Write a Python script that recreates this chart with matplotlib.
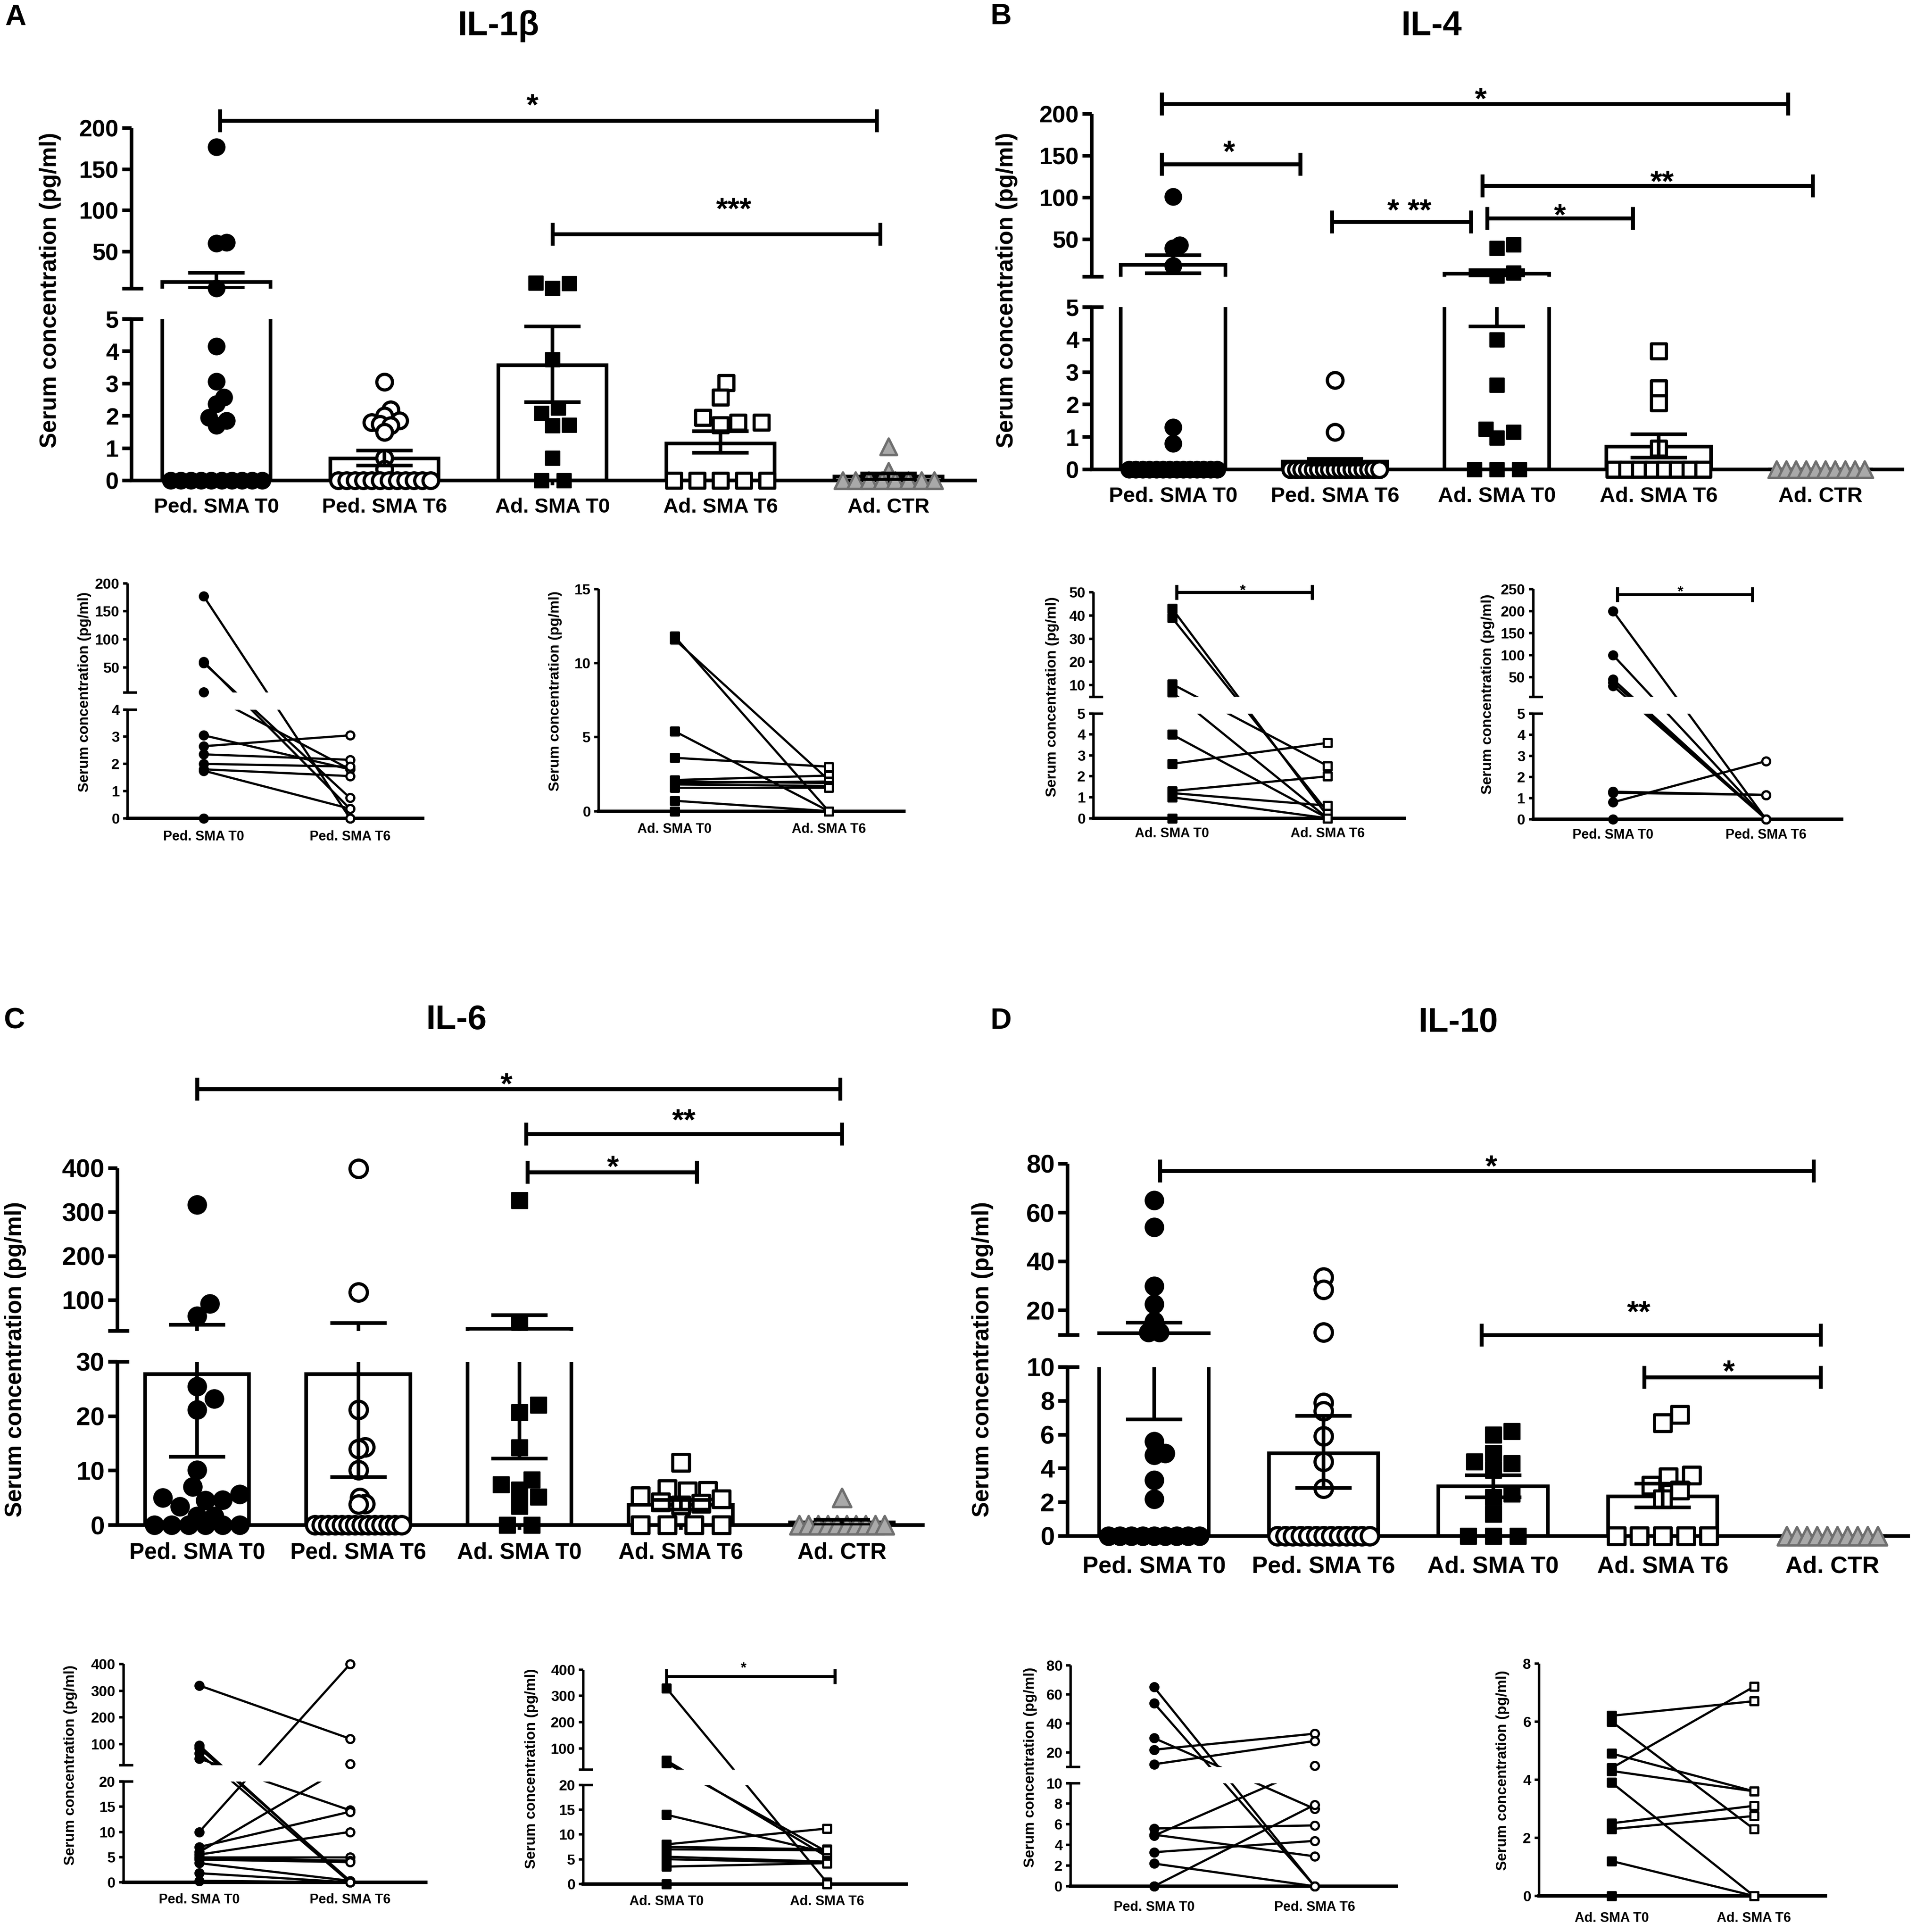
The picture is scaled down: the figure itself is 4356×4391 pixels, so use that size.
import numpy as np
import matplotlib
matplotlib.use("Agg")
import matplotlib.pyplot as plt
from matplotlib import transforms as mtrans

W, H, DPI = 4356, 4391, 200

plt.rcParams["font.family"] = ["Liberation Sans", "DejaVu Sans"]
plt.rcParams["font.weight"] = "bold"

# ------------------------------------------------------------------ data
CATEGORIES = ["Ped. SMA T0", "Ped. SMA T6", "Ad. SMA T0", "Ad. SMA T6", "Ad. CTR"]
PED_PAIR = ["Ped. SMA T0", "Ped. SMA T6"]
AD_PAIR = ["Ad. SMA T0", "Ad. SMA T6"]

# IL-1beta
il1b_ped_t0 = [177, 61, 60, 5.5, 4.15, 3.07, 2.58, 2.37, 1.95, 1.85, 1.7, 0, 0, 0, 0, 0, 0, 0, 0, 0, 0]
il1b_ped_t6 = [3.05, 2.2, 2.0, 1.85, 1.8, 1.75, 1.7, 1.5, 0.7, 0.35, 0, 0, 0, 0, 0, 0, 0, 0, 0, 0, 0, 0]
il1b_ad_t0 = [11.8, 11.6, 5.4, 3.75, 2.25, 2.08, 1.72, 1.7, 0.7, 0, 0]
il1b_ad_t6 = [3.02, 2.58, 1.95, 1.8, 1.8, 1.72, 0, 0, 0, 0, 0]
il1b_ad_ctr = [1.05, 0.28, 0, 0, 0, 0, 0, 0, 0, 0]
il1b_mean = [13, 0.68, 3.57, 1.15, 0.12]
il1b_err_lo = [6, 0.47, 2.42, 0.86, 0.03]
il1b_err_hi = [24, 0.93, 4.77, 1.53, 0.22]
il1b_ped_pair_t0 = [177, 60, 58, 5.5, 3.05, 2.65, 2.35, 2.0, 1.8, 1.75, 0]
il1b_ped_pair_t6 = [0, 0.35, 0.75, 1.8, 1.8, 3.05, 2.15, 1.9, 1.55, 0.35, 0]
il1b_ad_pair_t0 = [11.8, 11.6, 5.4, 3.6, 2.1, 2.0, 1.9, 1.8, 1.6, 0.7, 0]
il1b_ad_pair_t6 = [0, 2.1, 0, 3.0, 2.4, 1.9, 2.0, 1.7, 1.6, 0, 0]

# IL-4
il4_ped_t0 = [101, 43, 39, 18, 1.3, 0.8, 0, 0, 0, 0, 0, 0, 0, 0, 0, 0, 0, 0, 0, 0]
il4_ped_t6 = [2.75, 1.15, 0, 0, 0, 0, 0, 0, 0, 0, 0, 0, 0, 0, 0, 0, 0, 0, 0]
il4_ad_t0 = [43.5, 39, 9.7, 6, 4.0, 2.6, 1.25, 1.15, 0.97, 0, 0, 0]
il4_ad_t6 = [3.65, 2.5, 2.05, 0.65, 0, 0, 0, 0, 0, 0, 0, 0]
il4_ad_ctr = [0, 0, 0, 0, 0, 0, 0, 0, 0, 0]
il4_mean = [19, 0.25, 8.5, 0.7, 0]
il4_err_lo = [9, 0.15, 4.4, 0.36, 0]
il4_err_hi = [31, 0.32, 12.8, 1.08, 0]
il4_ad_pair_t0 = [43, 39, 10.5, 7, 4.0, 2.6, 1.3, 1.2, 1.0, 0]
il4_ad_pair_t6 = [0.1, 0.3, 2.5, 0.0, 0.0, 3.6, 2.0, 0.6, 0.0, 0]
il4_ped_pair_t0 = [200, 100, 45, 38, 30, 1.3, 1.25, 0.8, 0]
il4_ped_pair_t6 = [0, 0, 0, 0, 0, 1.15, 1.15, 2.75, 0]

# IL-6
il6_ped_t0 = [317, 92, 64, 25.5, 23.2, 21.2, 10.1, 7.0, 5.7, 5.0, 4.6, 4.5, 3.4, 1.6, 1.6, 0, 0, 0, 0, 0, 0]
il6_ped_t6 = [399, 118, 21.2, 14.3, 14.0, 10.1, 5.0, 3.9, 3.8, 0, 0, 0, 0, 0, 0, 0, 0, 0, 0, 0, 0, 0, 0]
il6_ad_t0 = [327, 50, 22.1, 20.7, 14.2, 8.3, 7.4, 6.5, 5.2, 3.5, 0, 0]
il6_ad_t6 = [11.5, 6.6, 6.3, 6.2, 5.3, 4.8, 4.2, 4.0, 3.6, 0, 0, 0, 0]
il6_ad_ctr = [5.0, 0, 0, 0, 0, 0, 0, 0, 0, 0, 0]
il6_mean = [27.7, 27.7, 35.3, 3.7, 0.5]
il6_err_lo = [12.5, 8.8, 12.2, 2.8, 0.0]
il6_err_hi = [44, 48, 66, 4.6, 1.0]
il6_ped_pair_t0 = [320, 95, 85, 65, 45, 10, 7, 6, 5.5, 5, 4.8, 4.5, 3.8, 1.8, 0.3]
il6_ped_pair_t6 = [120, 0, 0.3, 0, 14.3, 400, 14, 25, 10, 5, 4.3, 4, 0.3, 0, 0]
il6_ad_pair_t0 = [330, 55, 45, 14, 8, 7.5, 7, 5.5, 5, 3.5, 0]
il6_ad_pair_t6 = [0.3, 5.5, 6.5, 6.3, 11.2, 7, 6.8, 4.5, 4.3, 4.2, 0]

# IL-10
il10_ped_t0 = [65, 54, 30, 22.5, 15.5, 11, 11, 5.6, 4.9, 4.8, 3.3, 2.2, 0, 0, 0, 0, 0, 0, 0, 0, 0]
il10_ped_t6 = [33.5, 28.5, 11, 7.9, 7.4, 5.9, 4.4, 2.8, 0, 0, 0, 0, 0, 0, 0, 0, 0, 0, 0, 0, 0]
il10_ad_t0 = [6.2, 6.0, 4.9, 4.4, 4.3, 3.9, 2.5, 2.3, 1.3, 0, 0, 0]
il10_ad_t6 = [7.2, 6.7, 3.6, 3.5, 3.0, 2.7, 2.2, 0, 0, 0, 0, 0]
il10_ad_ctr = [0, 0, 0, 0, 0, 0, 0, 0, 0, 0]
il10_mean = [10.7, 4.9, 2.95, 2.35, 0]
il10_err_lo = [6.9, 2.85, 2.3, 1.7, 0]
il10_err_hi = [15, 7.1, 3.6, 3.1, 0]
il10_ped_pair_t0 = [65, 54, 30, 22, 12, 5.6, 5.0, 4.9, 3.3, 2.2, 0, 0]
il10_ped_pair_t6 = [0, 0, 7.5, 33, 28, 5.9, 2.9, 11, 4.4, 0, 7.9, 0]
il10_ad_pair_t0 = [6.2, 6.0, 4.9, 4.4, 4.3, 3.9, 2.5, 2.3, 1.2, 0]
il10_ad_pair_t6 = [6.7, 2.3, 3.6, 7.2, 3.6, 0, 3.1, 2.75, 0, 0]

# ------------------------------------------------------------------ style / layout
BW = 0.645
GROUP_STYLE = [
    dict(marker="o", fc="black", ec="black", lw=1.0, scale=1.0),
    dict(marker="o", fc="white", ec="black", lw=2.6, scale=0.95),
    dict(marker="s", fc="black", ec="black", lw=1.0, scale=0.85),
    dict(marker="s", fc="white", ec="black", lw=2.6, scale=0.92),
    dict(marker="^", fc="#a9a9a9", ec="#6f6f6f", lw=2.0, scale=1.0),
]

fig = plt.figure(figsize=(W / DPI, H / DPI), dpi=DPI)
fig.patch.set_facecolor("white")


def ftext(x, y, s, **kw):
    fig.text(x / W, 1 - y / H, s, **kw)


def px_axes(left, right, top, bottom):
    ax = fig.add_axes([left / W, 1 - bottom / H, (right - left) / W, (bottom - top) / H])
    ax.patch.set_visible(False)
    for s in ("top", "right"):
        ax.spines[s].set_visible(False)
    return ax


def build_axes(lay):
    xl = ((lay["spine"] - lay["x0"]) / lay["sp"], (lay["right"] - lay["x0"]) / lay["sp"])
    v0, v1, pb, pt = lay["lo"]
    axl = px_axes(lay["spine"], lay["right"], pt, pb)
    axl.set_xlim(*xl)
    axl.set_ylim(v0, v1)
    axu = None
    if lay.get("up") is not None:
        u0, u1, qb, qt = lay["up"]
        axu = px_axes(lay["spine"], lay["right"], qt, qb)
        axu.set_xlim(*xl)
        axu.set_ylim(u0, u1)
        axu.spines["bottom"].set_visible(False)
        axu.tick_params(axis="x", which="both", bottom=False, labelbottom=False)
    return axu, axl


def set_yt(ax, ticks, fs, length, width, lw_spine):
    ax.set_yticks(ticks)
    ax.set_yticklabels([f"{t:g}" for t in ticks])
    ax.tick_params(axis="y", direction="out", length=length, width=width, labelsize=fs, pad=3)
    ax.spines["left"].set_linewidth(lw_spine)
    ax.spines["left"].set_capstyle("butt")


def brk(ax, yv, lpx, rpx, lw):
    tr = mtrans.blended_transform_factory(ax.transAxes, ax.transData)
    w = ax.get_position().width * W
    ax.plot([-lpx / w, rpx / w], [yv, yv], color="black", lw=lw, transform=tr,
            clip_on=False, solid_capstyle="butt")


def pick(axu, axl, v):
    return axu if (axu is not None and v > axl.get_ylim()[1]) else axl


def swarm_offsets(ys_px, vals, diam, bw_px):
    vals = np.asarray(vals, float)
    uniq, counts = np.unique(vals, return_counts=True)
    nmax = counts.max()
    dmin = 1.6 * diam if nmax < 2 else min(1.6 * diam, (bw_px - diam) / (nmax - 1))
    thr = min(dmin, diam)
    lim = max(0.0, (bw_px - diam) / 2) + 1e-6
    placed = []
    offs = np.zeros(len(vals))
    shifts = [0.0]
    for k in range(1, 80):
        shifts += [k * dmin / 4, -k * dmin / 4]
    for u in uniq:
        idx = np.where(vals == u)[0]
        c = len(idx)
        y = ys_px[idx[0]]
        base = (np.arange(c) - (c - 1) / 2) * dmin
        best, best_d = base, -1.0
        for s in shifts:
            cand = base + s
            if np.any(np.abs(cand) > lim):
                continue
            if placed:
                md = min(np.hypot(cx - px, y - py) for cx in cand for (px, py) in placed)
            else:
                md = np.inf
            if md >= thr * 0.999:
                best = cand
                break
            if md > best_d:
                best, best_d = cand, md
        for j, i in enumerate(idx):
            offs[i] = best[j]
            placed.append((best[j], y))
    return offs


def sig(ax, x1, x2, y, lab, lx, ly, tick_px, lw, fs):
    d = ax.transData.transform((0, 1))[1] - ax.transData.transform((0, 0))[1]
    h = tick_px / d
    kw = dict(color="black", lw=lw, clip_on=False, solid_capstyle="butt", zorder=5)
    ax.plot([x1, x2], [y, y], **kw)
    ax.plot([x1, x1], [y - h, y + h], **kw)
    ax.plot([x2, x2], [y - h, y + h], **kw)
    tr = mtrans.offset_copy(ax.transData, fig=fig, y=-0.56 * fs, units="points")
    ax.text(lx, ly, lab, transform=tr, ha="center", va="baseline", fontsize=fs,
            fontweight="bold", clip_on=False)


def main_panel(lay, groups, means, lo, hi, sigs):
    axu, axl = build_axes(lay)
    set_yt(axu, lay["uticks"], lay["tfs"], 7.5, 3, 3)
    set_yt(axl, lay["lticks"], lay["tfs"], 7.5, 3, 3)
    axl.spines["bottom"].set_linewidth(3)
    axl.set_xticks(range(len(CATEGORIES)))
    axl.set_xticklabels(CATEGORIES)
    axl.tick_params(axis="x", direction="out", length=4, width=3, labelsize=lay["cfs"], pad=lay["xpad"])
    brk(axu, axu.get_ylim()[0], 21, 27, 3)
    brk(axl, axl.get_ylim()[1], 21, 27, 3)
    ubot = axu.get_ylim()[0]
    ltop = axl.get_ylim()[1]
    for i in range(len(means)):
        m = means[i]
        # lower segment: always
        axl.bar([i], [m], width=BW, facecolor="white", edgecolor="black", linewidth=3, zorder=1)
        if m > ubot:
            axu.bar([i], [m], width=BW, facecolor="white", edgecolor="black", linewidth=3, zorder=1)
        if hi[i] > lo[i]:
            yerr = [[m - lo[i]], [hi[i] - m]]
            if lo[i] < ltop:
                axl.errorbar([i], [m], yerr=yerr, fmt="none", ecolor="black", elinewidth=3,
                             capsize=23, capthick=3, zorder=4)
            if hi[i] > ubot:
                axu.errorbar([i], [m], yerr=yerr, fmt="none", ecolor="black", elinewidth=3,
                             capsize=23, capthick=3, zorder=4)
    xpx = axl.transData.transform((1, 0))[0] - axl.transData.transform((0, 0))[0]
    bw_px = BW * xpx
    for gi, vals in enumerate(groups):
        st = GROUP_STYLE[gi]
        size = lay["ms"] * st["scale"]
        diam = size * DPI / 72
        vals = np.asarray(vals, float)
        ys = np.array([pick(axu, axl, v).transData.transform((gi, v))[1] for v in vals])
        offs = swarm_offsets(ys, vals, diam, bw_px) / xpx
        for ax in (axu, axl):
            sel = [k for k, v in enumerate(vals) if pick(axu, axl, v) is ax]
            if not sel:
                continue
            ax.scatter(gi + offs[sel], vals[sel], s=size ** 2, marker=st["marker"],
                       facecolors=st["fc"], edgecolors=st["ec"], linewidths=st["lw"],
                       zorder=3, clip_on=False)
    for (x1, x2, y, lab, lx, ly, which) in sigs:
        sig(axu if which == "u" else axl, x1, x2, y, lab, lx, ly, 26, 3.2, 25)


def pair_panel(lay, t0, t6, names, mk, sig_spec=None):
    axu, axl = build_axes(lay)
    axes = [a for a in (axu, axl) if a is not None]
    if axu is not None:
        set_yt(axu, lay["uticks"], 12, 3.5, 2, 2)
    set_yt(axl, lay["lticks"], 12, 3.5, 2, 2)
    axl.spines["bottom"].set_linewidth(2.8)
    axl.set_xticks([0, 1])
    axl.set_xticklabels(names)
    axl.tick_params(axis="x", length=0, labelsize=11, pad=lay["xpad"])
    if axu is not None:
        brk(axu, axu.get_ylim()[0], 10, 22, 2)
        brk(axl, axl.get_ylim()[1], 10, 22, 2)
    inv = fig.transFigure.inverted()
    for a, b in zip(t0, t6):
        p0 = inv.transform(pick(axu, axl, a).transData.transform((0, a)))
        p1 = inv.transform(pick(axu, axl, b).transData.transform((1, b)))
        for ax in axes:
            ax.plot([p0[0], p1[0]], [p0[1], p1[1]], transform=fig.transFigure,
                    color="black", lw=1.8, zorder=2)
    size = 6.5
    for xi, vals, filled in ((0, t0, True), (1, t6, False)):
        for ax in axes:
            sel = [v for v in vals if pick(axu, axl, v) is ax]
            if sel:
                ax.scatter([xi] * len(sel), sel, s=size ** 2, marker=mk,
                           facecolors="black" if filled else "white", edgecolors="black",
                           linewidths=1.8, zorder=3, clip_on=False)
    if sig_spec is not None:
        sig(axu if axu is not None else axl, *sig_spec, 17, 2.5, 12)


MAIN = {
    "A": dict(spine=299, x0=492, sp=382, right=2217, up=(5, 200, 656, 291), lo=(0, 5, 1092, 725),
              uticks=[50, 100, 150, 200], lticks=[0, 1, 2, 3, 4, 5], tfs=19.5, cfs=17, ms=13.5, xpad=10),
    "B": dict(spine=2482, x0=2667, sp=368, right=4325, up=(5, 200, 629, 259), lo=(0, 5, 1067, 698),
              uticks=[50, 100, 150, 200], lticks=[0, 1, 2, 3, 4, 5], tfs=19.5, cfs=17.5, ms=13.5, xpad=10),
    "C": dict(spine=267, x0=448, sp=366.5, right=2098, up=(30, 400, 3025, 2655), lo=(0, 30, 3466, 3095),
              uticks=[100, 200, 300, 400], lticks=[0, 10, 20, 30], tfs=21, cfs=18.5, ms=15, xpad=10),
    "D": dict(spine=2427, x0=2623.5, sp=385.5, right=4338, up=(10, 80, 3033.5, 2645), lo=(0, 10, 3491, 3107),
              uticks=[20, 40, 60, 80], lticks=[0, 2, 4, 6, 8, 10], tfs=21, cfs=19.5, ms=15, xpad=12),
}

SIGS = {
    "A": [(0.02, 3.93, 209, "*", 1.88, 237, "u"), (2.0, 3.95, 71, "***", 3.08, 111, "u")],
    "B": [(-0.07, 3.80, 212, "*", 1.90, 227, "u"), (-0.07, 0.785, 140, "*", 0.345, 164, "u"),
          (0.98, 1.84, 71, "* **", 1.46, 93.6, "u"), (1.91, 3.95, 114, "**", 3.02, 128, "u"),
          (1.94, 2.84, 75, "*", 2.39, 88, "u")],
    "C": [(0.0, 3.99, 580, "*", 1.92, 608, "u"), (2.04, 4.0, 478, "**", 3.02, 526.5, "u"),
          (2.05, 3.10, 391, "*", 2.58, 420, "u")],
    "D": [(0.035, 3.89, 77.2, "*", 1.99, 82, "u"), (1.93, 3.93, 10, "**", 2.86, 22.5, "u"),
          (2.89, 3.93, 9.4, "*", 3.39, 10.2, "l")],
}

PAIR = {
    "A1": dict(spine=290, x0=463, sp=332.5, right=961, up=(5, 200, 1574, 1325.7), lo=(0, 4, 1859.6, 1612.6),
               uticks=[50, 100, 150, 200], lticks=[0, 1, 2, 3, 4], xpad=10),
    "A2": dict(spine=1361, x0=1533.5, sp=350.5, right=2055, up=None, lo=(0, 15, 1843.5, 1338.6),
               lticks=[0, 5, 10, 15], xpad=9.5),
    "B1": dict(spine=2486, x0=2664.7, sp=353.4, right=3193, up=(5, 50, 1583.7, 1346), lo=(0, 5, 1859.6, 1621.8),
               uticks=[10, 20, 30, 40, 50], lticks=[0, 1, 2, 3, 4, 5], xpad=7.5),
    "B2": dict(spine=3485.6, x0=3667, sp=348, right=4187, up=(5, 250, 1583.7, 1338.6), lo=(0, 5, 1861.8, 1621.8),
               uticks=[50, 100, 150, 200, 250], lticks=[0, 1, 2, 3, 4, 5], xpad=7.5),
    "C1": dict(spine=280.6, x0=453, sp=342.5, right=968, up=(20, 400, 4012, 3782.4), lo=(0, 20, 4278, 4049),
               uticks=[100, 200, 300, 400], lticks=[0, 5, 10, 15, 20], xpad=9),
    "C2": dict(spine=1326, x0=1515, sp=365, right=2060, up=(20, 400, 4021.7, 3794.7), lo=(0, 20, 4281.7, 4057),
               uticks=[100, 200, 300, 400], lticks=[0, 5, 10, 15, 20], xpad=9),
    "D1": dict(spine=2433.8, x0=2623.5, sp=365.5, right=3173.5, up=(10, 80, 4016.4, 3784.6), lo=(0, 10, 4287, 4052.6),
               uticks=[20, 40, 60, 80], lticks=[0, 2, 4, 6, 8, 10], xpad=12),
    "D2": dict(spine=3499, x0=3664, sp=323.5, right=4150, up=None, lo=(0, 8, 4309, 3780.6),
               lticks=[0, 2, 4, 6, 8], xpad=13),
}

# ------------------------------------------------------------------ draw
main_panel(MAIN["A"], [il1b_ped_t0, il1b_ped_t6, il1b_ad_t0, il1b_ad_t6, il1b_ad_ctr],
           il1b_mean, il1b_err_lo, il1b_err_hi, SIGS["A"])
main_panel(MAIN["B"], [il4_ped_t0, il4_ped_t6, il4_ad_t0, il4_ad_t6, il4_ad_ctr],
           il4_mean, il4_err_lo, il4_err_hi, SIGS["B"])
main_panel(MAIN["C"], [il6_ped_t0, il6_ped_t6, il6_ad_t0, il6_ad_t6, il6_ad_ctr],
           il6_mean, il6_err_lo, il6_err_hi, SIGS["C"])
main_panel(MAIN["D"], [il10_ped_t0, il10_ped_t6, il10_ad_t0, il10_ad_t6, il10_ad_ctr],
           il10_mean, il10_err_lo, il10_err_hi, SIGS["D"])

pair_panel(PAIR["A1"], il1b_ped_pair_t0, il1b_ped_pair_t6, PED_PAIR, "o")
pair_panel(PAIR["A2"], il1b_ad_pair_t0, il1b_ad_pair_t6, AD_PAIR, "s")
pair_panel(PAIR["B1"], il4_ad_pair_t0, il4_ad_pair_t6, AD_PAIR, "s", (0.03, 0.90, 50, "*", 0.455, 52.5))
pair_panel(PAIR["B2"], il4_ped_pair_t0, il4_ped_pair_t6, PED_PAIR, "o", (0.03, 0.91, 238, "*", 0.44, 253))
pair_panel(PAIR["C1"], il6_ped_pair_t0, il6_ped_pair_t6, PED_PAIR, "o")
pair_panel(PAIR["C2"], il6_ad_pair_t0, il6_ad_pair_t6, AD_PAIR, "s", (0.0, 1.05, 374, "*", 0.48, 422))
pair_panel(PAIR["D1"], il10_ped_pair_t0, il10_ped_pair_t6, PED_PAIR, "o")
pair_panel(PAIR["D2"], il10_ad_pair_t0, il10_ad_pair_t6, AD_PAIR, "s")

# titles, panel letters, axis labels
for x, y, s in [(1133, 60, "IL-1β"), (3255, 59, "IL-4"), (1038, 2319, "IL-6"), (3315, 2325, "IL-10")]:
    ftext(x, y, s, ha="center", va="center", fontsize=28, fontweight="bold")
for x, y, s in [(35, 40, "A"), (2276, 38, "B"), (32, 2321, "C"), (2276, 2321, "D")]:
    ftext(x, y, s, ha="center", va="center", fontsize=24, fontweight="bold")

YLAB = "Serum concentration (pg/ml)"
for x, y in [(114, 660), (2289, 660), (35, 3089), (2234, 3089)]:
    ftext(x, y, YLAB, rotation=90, ha="center", va="center", fontsize=19, fontweight="bold")
for x, y in [(192, 1573), (1263, 1571), (2392, 1584), (3382, 1578),
             (161, 4012), (1209, 4020), (2342, 4017), (3417, 4024)]:
    ftext(x, y, YLAB, rotation=90, ha="center", va="center", fontsize=12, fontweight="bold")

fig.savefig("out.png", dpi=DPI, facecolor="white")
